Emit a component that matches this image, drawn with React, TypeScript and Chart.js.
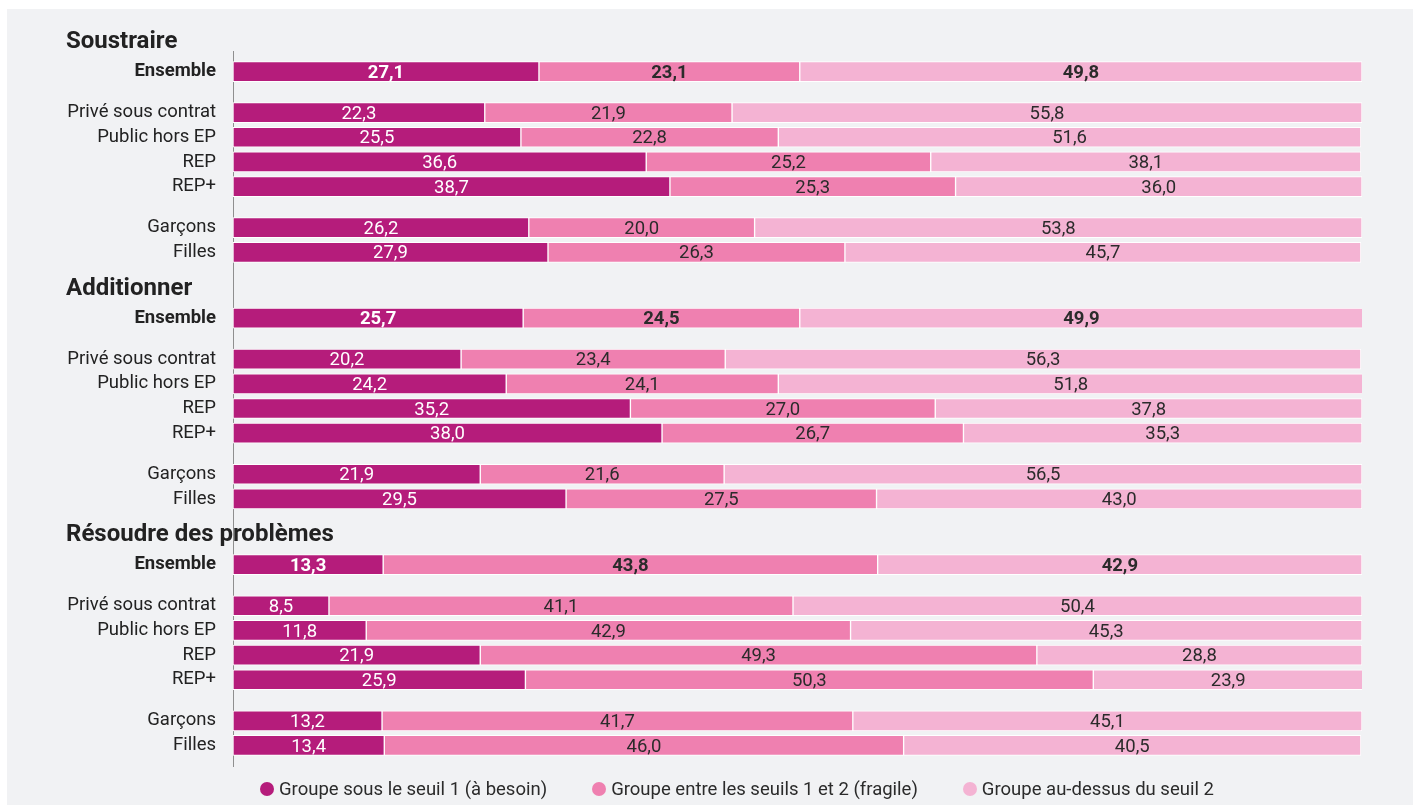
import React, { useEffect, useRef } from "react";
import { Chart, registerables } from "chart.js";

Chart.register(...registerables);

const sections = ["Soustraire", "Additionner", "Résoudre des problèmes"];
const rowLabels = ["Ensemble", "Privé sous contrat", "Public hors EP", "REP", "REP+", "Garçons", "Filles"];
const seriesNames = [
  "Groupe sous le seuil 1 (à besoin)",
  "Groupe entre les seuils 1 et 2 (fragile)",
  "Groupe au-dessus du seuil 2",
];
const colors = ["#B51C7B", "#EF80B0", "#F4B3D3"];

// Soustraire
const soustraireBesoin = [27.1, 22.3, 25.5, 36.6, 38.7, 26.2, 27.9];
const soustraireFragile = [23.1, 21.9, 22.8, 25.2, 25.3, 20.0, 26.3];
const soustraireDessus = [49.8, 55.8, 51.6, 38.1, 36.0, 53.8, 45.7];
// Additionner
const additionnerBesoin = [25.7, 20.2, 24.2, 35.2, 38.0, 21.9, 29.5];
const additionnerFragile = [24.5, 23.4, 24.1, 27.0, 26.7, 21.6, 27.5];
const additionnerDessus = [49.9, 56.3, 51.8, 37.8, 35.3, 56.5, 43.0];
// Résoudre des problèmes
const resoudreBesoin = [13.3, 8.5, 11.8, 21.9, 25.9, 13.2, 13.4];
const resoudreFragile = [43.8, 41.1, 42.9, 49.3, 50.3, 41.7, 46.0];
const resoudreDessus = [42.9, 50.4, 45.3, 28.8, 23.9, 45.1, 40.5];

const sectionSeries = [
  [soustraireBesoin, soustraireFragile, soustraireDessus],
  [additionnerBesoin, additionnerFragile, additionnerDessus],
  [resoudreBesoin, resoudreFragile, resoudreDessus],
];

// layout of category slots (spacing only)
const SLOT_TOTAL = 87;
const sectionStart = [2, 32, 62];
const rowOffset = [0, 5, 8, 11, 14, 19, 22];
const TITLE_OFFSET = 3.6;

const FONT = "Roboto, 'Noto Sans', sans-serif";
const LABEL_SIZE = 18.5;

function buildTable() {
  const labels: string[] = new Array(SLOT_TOTAL).fill("");
  const data: (number | null)[][] = [0, 1, 2].map(() => new Array(SLOT_TOTAL).fill(null));
  sections.forEach((_, s) => {
    rowLabels.forEach((lab, r) => {
      const idx = sectionStart[s] + rowOffset[r];
      labels[idx] = lab;
      for (let k = 0; k < 3; k++) data[k][idx] = sectionSeries[s][k][r];
    });
  });
  return { labels, data };
}

const fmt = (v: number) => v.toFixed(1).replace(".", ",");

export default function App() {
  const ref = useRef<HTMLCanvasElement>(null);

  useEffect(() => {
    const { labels, data } = buildTable();
    const valuePlugin = {
      id: "values",
      afterDatasetsDraw(chart: any) {
        const ctx = chart.ctx;
        ctx.save();
        ctx.textAlign = "center";
        ctx.textBaseline = "middle";
        chart.data.datasets.forEach((ds: any, di: number) => {
          const meta = chart.getDatasetMeta(di);
          meta.data.forEach((el: any, i: number) => {
            const v = ds.data[i];
            if (v === null || v === undefined) return;
            const bold = labels[i] === "Ensemble";
            ctx.font = `${bold ? "bold " : ""}${LABEL_SIZE}px ${FONT}`;
            ctx.fillStyle = di === 0 ? "#ffffff" : "#2b2b2b";
            ctx.fillText(fmt(v), (el.x + el.base) / 2, el.y + 1.5);
          });
        });
        ctx.restore();
      },
    };
    const titlePlugin = {
      id: "titles",
      afterDraw(chart: any) {
        const ctx = chart.ctx;
        const y = chart.scales.y;
        ctx.save();
        ctx.font = `bold 24px ${FONT}`;
        ctx.fillStyle = "#222222";
        ctx.textAlign = "left";
        ctx.textBaseline = "middle";
        sections.forEach((t, s) => {
          const p0 = y.getPixelForValue(sectionStart[s]);
          const p1 = y.getPixelForValue(sectionStart[s] + 1);
          ctx.fillText(t, 59, p0 - TITLE_OFFSET * (p1 - p0));
        });
        ctx.restore();
      },
    };
    const chart = new Chart(ref.current!, {
      type: "bar",
      data: {
        labels,
        datasets: seriesNames.map((name, k) => ({
          label: name,
          data: data[k],
          backgroundColor: colors[k],
          borderColor: "#ffffff",
          borderWidth: 1,
          borderSkipped: false,
          barThickness: 20,
        })),
      },
      options: {
        indexAxis: "y",
        animation: false,
        responsive: false,
        layout: { padding: { top: 42, right: 51, bottom: 13, left: 0 } },
        plugins: { legend: { display: false }, tooltip: { enabled: false } },
        scales: {
          x: { display: false, stacked: true, min: 0, max: 100 },
          y: {
            stacked: true,
            grid: { display: false, drawTicks: false },
            border: { display: true, color: "#8f8f8f", width: 1 },
            afterFit: (scale: any) => {
              scale.width = 226;
              scale.paddingTop = 0;
              scale.paddingBottom = 0;
            },
            ticks: {
              autoSkip: false,
              padding: 17,
              color: "#222222",
              font: (c: any) => ({
                family: FONT,
                size: LABEL_SIZE,
                weight: c.tick && c.tick.label === "Ensemble" ? "bold" : "normal",
              }),
            },
          },
        },
      },
      plugins: [valuePlugin, titlePlugin],
    } as any);
    return () => chart.destroy();
  }, []);

  return (
    <div
      style={{
        position: "absolute",
        left: 7,
        top: 9,
        width: 1406,
        height: 796,
        background: "#F1F2F4",
        fontFamily: FONT,
      }}
    >
      <canvas ref={ref} width={1406} height={770} style={{ display: "block", width: 1406, height: 770 }} />
      <div
        style={{
          position: "absolute",
          left: 253,
          top: 770,
          height: 20,
          display: "flex",
          alignItems: "center",
          fontSize: LABEL_SIZE,
          color: "#2b2b2b",
          whiteSpace: "nowrap",
        }}
      >
        {seriesNames.map((n, k) => (
          <div key={n} style={{ display: "flex", alignItems: "center", marginRight: k < 2 ? 45 : 0 }}>
            <span
              style={{
                width: 14,
                height: 14,
                borderRadius: 7,
                background: colors[k],
                display: "inline-block",
                marginRight: 5,
              }}
            />
            <span>{n}</span>
          </div>
        ))}
      </div>
    </div>
  );
}
